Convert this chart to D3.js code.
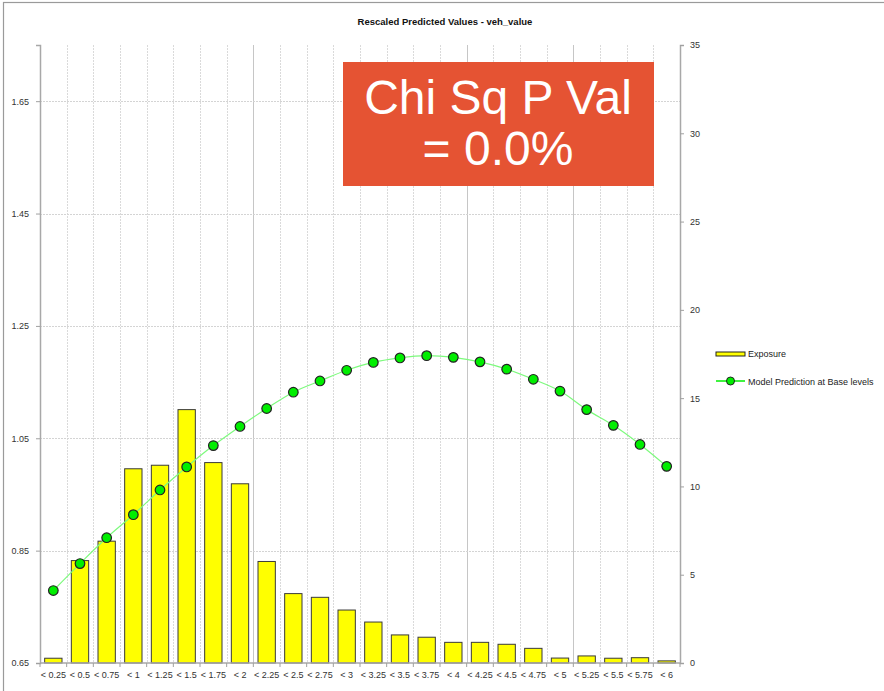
<!DOCTYPE html>
<html><head><meta charset="utf-8">
<script src="https://cdn.jsdelivr.net/npm/d3@7"></script>
<style>body{margin:0;background:#fff;} text{font-family:"Liberation Sans",Arial,sans-serif;}</style>
</head><body>
<svg id="chart" width="884" height="691"></svg>
<script>
const categories = ["< 0.25","< 0.5","< 0.75","< 1","< 1.25","< 1.5","< 1.75","< 2","< 2.25","< 2.5","< 2.75","< 3","< 3.25","< 3.5","< 3.75","< 4","< 4.25","< 4.5","< 4.75","< 5","< 5.25","< 5.5","< 5.75","< 6"];
const exposure = [0.27,5.8,6.9,11.0,11.2,14.35,11.35,10.15,5.75,3.93,3.72,3.0,2.32,1.59,1.46,1.17,1.17,1.06,0.83,0.28,0.40,0.27,0.30,0.12];
const prediction = [0.779,0.827,0.873,0.914,0.958,0.999,1.037,1.071,1.103,1.132,1.152,1.171,1.185,1.193,1.197,1.194,1.186,1.173,1.155,1.134,1.101,1.073,1.039,1.000];
const leftTicks = [0.65,0.85,1.05,1.25,1.45,1.65];
const rightTicks = [0,5,10,15,20,25,30,35];
const title = "Rescaled Predicted Values - veh_value";
const legendLabels = ["Exposure","Model Prediction at Base levels"];
const annotation = ["Chi Sq P Val","= 0.0%"];

const svg = d3.select("#chart");
const L = 40, R = 680, T = 45, B = 663;

// outer frame
svg.append("rect").attr("x",3.5).attr("y",2.5).attr("width",900).attr("height",700)
  .attr("fill","none").attr("stroke","#9a9a9a").attr("stroke-width",1.2);

const x = d3.scaleBand().domain(categories).range([L,R]).paddingInner(0.35).paddingOuter(0.175);
const xEdge = d3.scaleLinear().domain([0,categories.length]).range([L,R]);
const yL = d3.scaleLinear().domain([0.65,1.75]).range([B,T]);
const yR = d3.scaleLinear().domain([0,35]).range([B,T]);
const darker = [8,16,20];

// vertical gridlines
svg.append("g").selectAll("line").data(d3.range(1,categories.length)).join("line")
  .attr("x1",d=>Math.round(xEdge(d))+0.5).attr("x2",d=>Math.round(xEdge(d))+0.5)
  .attr("y1",T).attr("y2",B)
  .attr("stroke",d=>darker.includes(d)?"#c6c6c6":"#dadada")
  .attr("stroke-dasharray",d=>darker.includes(d)?null:"2,1")
  .attr("stroke-width",1);

// horizontal gridlines
svg.append("g").selectAll("line").data(leftTicks.slice(1)).join("line")
  .attr("x1",L).attr("x2",R)
  .attr("y1",d=>Math.round(yL(d))+0.5).attr("y2",d=>Math.round(yL(d))+0.5)
  .attr("stroke","#d4d4d4").attr("stroke-dasharray","2,1");

// bars
svg.append("g").selectAll("rect").data(exposure).join("rect")
  .attr("x",(d,i)=>x(categories[i]))
  .attr("width",x.bandwidth())
  .attr("y",d=>yR(d)).attr("height",d=>B-yR(d))
  .attr("fill","#ffff00").attr("stroke","#3a3a3a").attr("stroke-width",1);

// axes
const axL = svg.append("g").attr("transform",`translate(${L},0)`)
  .call(d3.axisLeft(yL).tickValues(leftTicks).tickFormat(d3.format(".2f")).tickSize(4).tickPadding(7));
const axR = svg.append("g").attr("transform",`translate(${R},0)`)
  .call(d3.axisRight(yR).tickValues(rightTicks).tickSize(4).tickPadding(6));
const axB = svg.append("g").attr("transform",`translate(0,${B})`)
  .call(d3.axisBottom(x).tickSize(0).tickPadding(9));
svg.append("g").selectAll("line").data(d3.range(0,categories.length+1)).join("line")
  .attr("x1",d=>xEdge(d)).attr("x2",d=>xEdge(d)).attr("y1",B).attr("y2",B+4)
  .attr("stroke","#a0a0a0");
[axL,axR,axB].forEach(a=>{
  a.select(".domain").attr("stroke","#a8a8a8").attr("stroke-width",1.5);
  a.selectAll(".tick line").attr("stroke","#a0a0a0");
  a.selectAll("text").attr("fill","#333").style("font-size","9px").style("font-family","'Liberation Sans',Arial,sans-serif");
});
axB.select(".domain").attr("d",`M${L},0H${R}`);

// prediction line
const cx = (d,i)=>x(categories[i])+x.bandwidth()/2;
svg.append("path").datum(prediction)
  .attr("d",d3.line().x(cx).y(d=>yL(d)).curve(d3.curveCatmullRom))
  .attr("fill","none").attr("stroke","#7dfa7d").attr("stroke-width",1.2);
svg.append("g").selectAll("circle").data(prediction).join("circle")
  .attr("cx",cx).attr("cy",d=>yL(d)).attr("r",4.8)
  .attr("fill","#00ee00").attr("stroke","#222").attr("stroke-width",1.2);

// title
svg.append("text").attr("x",445).attr("y",25).attr("text-anchor","middle")
  .style("font-size","9.5px").style("font-weight","bold").attr("fill","#111").text(title);

// annotation box
svg.append("rect").attr("x",343).attr("y",62).attr("width",311).attr("height",124).attr("fill","#e55333");
svg.append("g").selectAll("text").data(annotation).join("text")
  .attr("x",498).attr("y",(d,i)=>114+i*51).attr("text-anchor","middle")
  .attr("fill","#fff").style("font-size","48px").text(d=>d);

// legend
const lg = svg.append("g");
lg.append("rect").attr("x",716).attr("y",352).attr("width",29).attr("height",4)
  .attr("fill","#ffff00").attr("stroke","#222").attr("stroke-width",1);
lg.append("line").attr("x1",716).attr("x2",745).attr("y1",381).attr("y2",381).attr("stroke","#00ee00").attr("stroke-width",1.5);
lg.append("circle").attr("cx",730.5).attr("cy",381).attr("r",4).attr("fill","#00ee00").attr("stroke","#222");
lg.selectAll("text").data(legendLabels).join("text")
  .attr("x",748).attr("y",(d,i)=>357+i*28).style("font-size","9px").attr("fill","#222").text(d=>d);
</script>
</body></html>
